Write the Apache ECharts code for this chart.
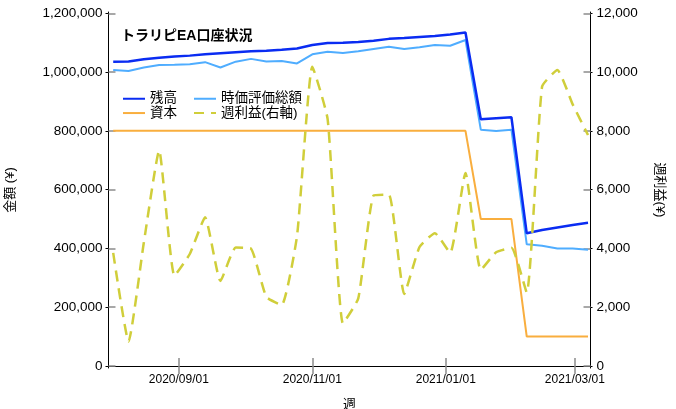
<!DOCTYPE html>
<html><head><meta charset="utf-8">
<script src="https://cdn.jsdelivr.net/npm/echarts@6/dist/echarts.min.js"></script>
<style>html,body{margin:0;padding:0;background:#fff}#c{width:676px;height:409px}</style>
</head><body><div id="c"></div>
<script>
const weeks = ['2020-08-02','2020-08-09','2020-08-16','2020-08-23','2020-08-30','2020-09-06','2020-09-13','2020-09-20','2020-09-27','2020-10-04','2020-10-11','2020-10-18','2020-10-25','2020-11-01','2020-11-08','2020-11-15','2020-11-22','2020-11-29','2020-12-06','2020-12-13','2020-12-20','2020-12-27','2021-01-03','2021-01-10','2021-01-17','2021-01-24','2021-01-31','2021-02-07','2021-02-14','2021-02-21','2021-02-28','2021-03-07'];
const balance = [1035400,1035800,1043600,1049000,1053000,1056000,1060600,1064300,1067700,1070800,1073000,1075900,1080000,1092200,1099000,1100000,1102400,1106500,1113000,1116000,1119400,1122800,1128000,1134700,839400,842800,846200,451500,462700,471300,479800,487600];
const marketValue = [1007100,1003700,1015600,1024200,1025200,1026600,1033700,1015600,1035400,1044900,1036000,1037800,1029300,1060600,1069400,1065000,1070800,1078600,1086400,1078600,1084400,1092200,1089800,1109200,804000,799600,804000,414100,409300,399800,399800,395700];
const capital = [800000,800000,800000,800000,800000,800000,800000,800000,800000,800000,800000,800000,800000,800000,800000,800000,800000,800000,800000,800000,800000,800000,800000,800000,500000,500000,500000,100000,100000,100000,100000,100000];
const weeklyProfit = [3850,830,4200,7330,3070,3810,5060,2890,4030,3990,2350,2075,4420,10180,8400,1450,2300,5800,5830,2450,4050,4520,3850,6570,3270,3870,4020,2500,9500,10070,8900,7860];
const xTickLabels = ['2020/09/01','2020/11/01','2021/01/01','2021/03/01'];
const yLeftTicks = [0,200000,400000,600000,800000,1000000,1200000];
const yRightTicks = [0,2000,4000,6000,8000,10000,12000];

const DAY = 864e5;
function toTs(s){const p=s.split(/[-\/]/).map(Number);return new Date(p[0],p[1]-1,p[2]).getTime();}
function pad(n){return (n<10?'0':'')+n;}
function fmtDate(v){const d=new Date(v);return d.getFullYear()+'/'+pad(d.getMonth()+1)+'/'+pad(d.getDate());}
function commas(v){return String(Math.round(v)).replace(/\B(?=(\d{3})+(?!\d))/g, ',');}
const xs = weeks.map(toTs);
const xTicks = xTickLabels.map(toTs);
const xMin = xs[0] - 2.15*DAY, xMax = xs[xs.length-1] + 1.14*DAY;
const pairs = arr => arr.map((v,i)=>[xs[i], v]);

const FONT = "'Liberation Sans', 'Noto Sans CJK JP', sans-serif";
const gray = '#8c8c8c';
const line = {show:true, lineStyle:{color:'#000', width:1}};
const C_BAL = '#0A2CF2', C_MV = '#4FADFF', C_CAP = '#F9AE3E', C_WP = '#D0CE3A';
const solidIcon = 'path://M0,0h22v2h-22z';
const dashIcon = 'path://M0,0h10v2h-10zM17,0h5v2h-5z';
const legendText = {fontSize:13.5, color:'#000', fontFamily:FONT};

const chart = echarts.init(document.getElementById('c'), null, {renderer:'canvas'});
chart.setOption({
  animation:false,
  textStyle:{fontFamily:FONT, color:'#000'},
  title:{text:'トラリピEA口座状況', left:121, top:29, padding:0,
    textStyle:{fontSize:14, fontWeight:'bold', color:'#000', fontFamily:FONT}},
  legend:[
    {data:[{name:'残高', icon:solidIcon, itemStyle:{color:C_BAL}},
           {name:'時価評価総額', icon:solidIcon, itemStyle:{color:C_MV}}],
      left:123, top:92, padding:0, itemWidth:22, itemHeight:2.5, itemGap:17, textStyle:legendText},
    {data:[{name:'資本', icon:solidIcon, itemStyle:{color:C_CAP}},
           {name:'週利益(右軸)', icon:dashIcon, itemStyle:{color:C_WP}}],
      left:123, top:106.3, padding:0, itemWidth:22, itemHeight:2.5, itemGap:17, textStyle:legendText}
  ],
  grid:{left:108.5, right:85.5, top:12, bottom:41, containLabel:false, outerBoundsMode:'none'},
  xAxis:[
    {type:'value', min:xMin, max:xMax, position:'bottom', splitLine:{show:false},
      name:'週', nameLocation:'middle', nameGap:30, nameTextStyle:{fontSize:13, color:'#000'},
      axisLine:line,
      axisTick:{show:true, inside:true, length:8, customValues:xTicks, lineStyle:{color:gray, width:1.5}},
      axisLabel:{customValues:xTicks, formatter:fmtDate, fontSize:12, color:'#000', margin:6}},
    {type:'value', min:xMin, max:xMax, position:'top', splitLine:{show:false},
      axisLine:line,
      axisTick:{show:true, inside:true, length:8, customValues:xTicks, lineStyle:{color:gray, width:1.5}},
      axisLabel:{show:false}}
  ],
  yAxis:[
    {type:'value', min:-6805, max:1204423, position:'left', splitLine:{show:false},
      name:'金額 (¥)', nameLocation:'middle', nameGap:92, nameRotate:90, nameTextStyle:{fontSize:13, color:'#000'},
      axisLine:line,
      axisTick:{show:true, inside:false, length:3, customValues:yLeftTicks, lineStyle:{color:'#000', width:1}},
      axisLabel:{customValues:yLeftTicks, formatter:commas, fontSize:13.5, color:'#000', margin:6}},
    {type:'value', min:-68, max:12044, position:'right', splitLine:{show:false},
      name:'週利益(¥)', nameLocation:'middle', nameGap:63, nameRotate:-90, nameTextStyle:{fontSize:13, color:'#000'},
      axisLine:line,
      axisTick:{show:true, inside:false, length:2, customValues:yRightTicks, lineStyle:{color:'#000', width:1}},
      axisLabel:{customValues:yRightTicks, formatter:commas, fontSize:13.5, color:'#000', margin:6}},
    {type:'value', min:-6805, max:1204423, position:'left', splitLine:{show:false},
      axisLine:{show:false},
      axisTick:{show:true, inside:true, length:7, customValues:yLeftTicks, lineStyle:{color:gray, width:1.5}},
      axisLabel:{show:false}},
    {type:'value', min:-68, max:12044, position:'right', splitLine:{show:false},
      axisLine:{show:false},
      axisTick:{show:true, inside:true, length:7, customValues:yRightTicks, lineStyle:{color:gray, width:1.5}},
      axisLabel:{show:false}}
  ],
  series:[
    {name:'時価評価総額', type:'line', data:pairs(marketValue), symbol:'none', yAxisIndex:0, xAxisIndex:0,
      lineStyle:{color:C_MV, width:2}, itemStyle:{color:C_MV}},
    {name:'残高', type:'line', data:pairs(balance), symbol:'none', yAxisIndex:0, xAxisIndex:0,
      lineStyle:{color:C_BAL, width:2.5}, itemStyle:{color:C_BAL}},
    {name:'資本', type:'line', data:pairs(capital), symbol:'none', yAxisIndex:0, xAxisIndex:0,
      lineStyle:{color:C_CAP, width:2}, itemStyle:{color:C_CAP}},
    {name:'週利益(右軸)', type:'line', data:pairs(weeklyProfit), symbol:'none', yAxisIndex:1, xAxisIndex:0,
      smooth:0.15,
      lineStyle:{color:C_WP, width:2.5, type:[11,7]}, itemStyle:{color:C_WP}}
  ]
});
</script>
</body></html>
